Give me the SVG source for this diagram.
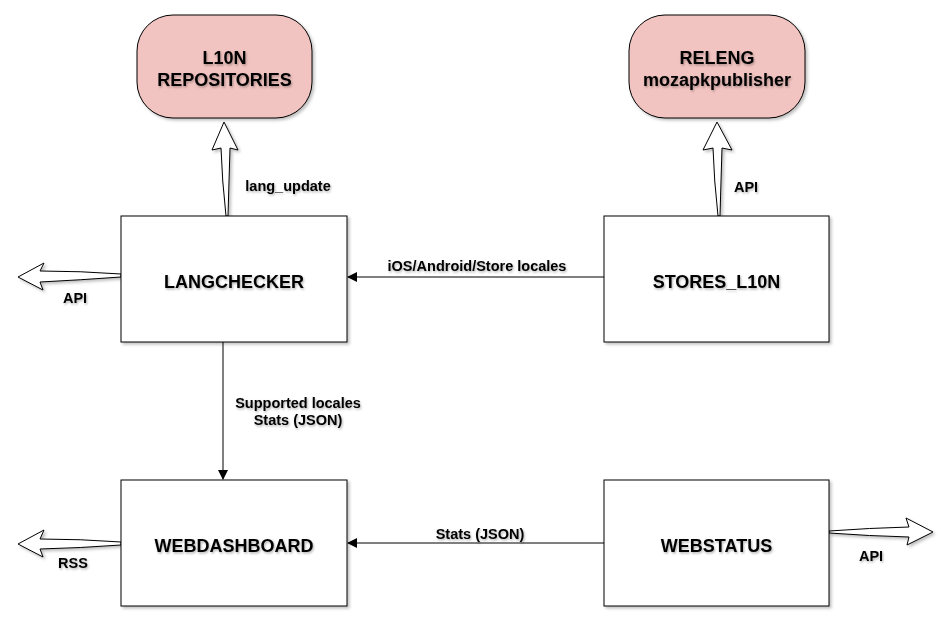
<svg xmlns="http://www.w3.org/2000/svg" width="950" height="620" viewBox="0 0 950 620">
<style>
.box{fill:#ffffff;stroke:#000000;stroke-width:1;filter:url(#sh)}
.rnd{fill:#f2c4c1;stroke:#000000;stroke-width:1;filter:url(#sh)}
.nt{font-family:"Liberation Sans",Arial,sans-serif;font-weight:bold;font-size:18px;fill:#000;text-anchor:middle;filter:url(#tsh)}
.et{font-family:"Liberation Sans",Arial,sans-serif;font-weight:bold;font-size:14.5px;fill:#000;text-anchor:middle;filter:url(#tsh)}
.ln{stroke:#000;stroke-width:1;fill:none}
.fat{fill:#ffffff;stroke:#000;stroke-width:1;stroke-linejoin:miter;filter:url(#sh)}
</style>
<defs>
<filter id="sh" x="-10%" y="-10%" width="130%" height="130%">
<feDropShadow dx="2" dy="2" stdDeviation="1.5" flood-color="#000" flood-opacity="0.25"/>
</filter>
<filter id="tsh" x="-10%" y="-30%" width="130%" height="170%">
<feDropShadow dx="1" dy="1.5" stdDeviation="1" flood-color="#000" flood-opacity="0.3"/>
</filter>
<marker id="ah" markerWidth="10" markerHeight="10" refX="9" refY="5" orient="auto" markerUnits="userSpaceOnUse">
<path d="M0,0 L10,5 L0,10 Z" fill="#000"/>
</marker>
</defs>

<g id="connectors">
<path class="fat" d="M226,216 Q222,180 221,148 L212,150 L224,122 L238,150 L230,148 Q229,180 228,216 Z"/>
<path class="fat" d="M718,216 Q714,180 713,148 L703,150 L717,122 L732,150 L722,148 Q721,180 720,216 Z"/>
<path class="fat" d="M121,274 Q80,271 40,271 L44,263 L18,277 L43,290 L40,282 Q80,280 121,277 Z"/>
<path class="fat" d="M121,542 Q80,539 40,539 L44,530 L18,544 L43,557 L40,549 Q80,548 121,545 Z"/>
<path class="fat" d="M829,531 Q870,528 909,527 L906,518 L933,532 L907,545 L909,537 Q870,536 829,533 Z"/>
<line class="ln" x1="604" y1="277" x2="348" y2="277" marker-end="url(#ah)"/>
<line class="ln" x1="604" y1="543" x2="348" y2="543" marker-end="url(#ah)"/>
<line class="ln" x1="223" y1="342" x2="223" y2="479" marker-end="url(#ah)"/>
<text class="et" x="288" y="191">lang_update</text>
<text class="et" x="746" y="192">API</text>
<text class="et" x="477" y="271">iOS/Android/Store locales</text>
<text class="et" x="75" y="303">API</text>
<text class="et" x="298" y="408">Supported locales</text>
<text class="et" x="298" y="425">Stats (JSON)</text>
<text class="et" x="480" y="539">Stats (JSON)</text>
<text class="et" x="73" y="568">RSS</text>
<text class="et" x="871" y="561">API</text>
</g>

<g id="l10n-repositories">
<rect class="rnd" x="137" y="15" width="175" height="103" rx="36" ry="36"/>
<text class="nt" x="224.5" y="64">L10N</text>
<text class="nt" x="224.5" y="86">REPOSITORIES</text>
</g>
<g id="releng">
<rect class="rnd" x="629" y="15" width="176" height="103" rx="36" ry="36"/>
<text class="nt" x="717" y="64">RELENG</text>
<text class="nt" x="717" y="86">mozapkpublisher</text>
</g>
<g id="langchecker">
<rect class="box" x="121" y="216" width="226" height="126"/>
<text class="nt" x="234" y="288">LANGCHECKER</text>
</g>
<g id="stores-l10n">
<rect class="box" x="604" y="216" width="225" height="126"/>
<text class="nt" x="716.5" y="288">STORES_L10N</text>
</g>
<g id="webdashboard">
<rect class="box" x="121" y="480" width="226" height="126"/>
<text class="nt" x="234" y="552">WEBDASHBOARD</text>
</g>
<g id="webstatus">
<rect class="box" x="604" y="480" width="225" height="126"/>
<text class="nt" x="716.5" y="552">WEBSTATUS</text>
</g>
</svg>
